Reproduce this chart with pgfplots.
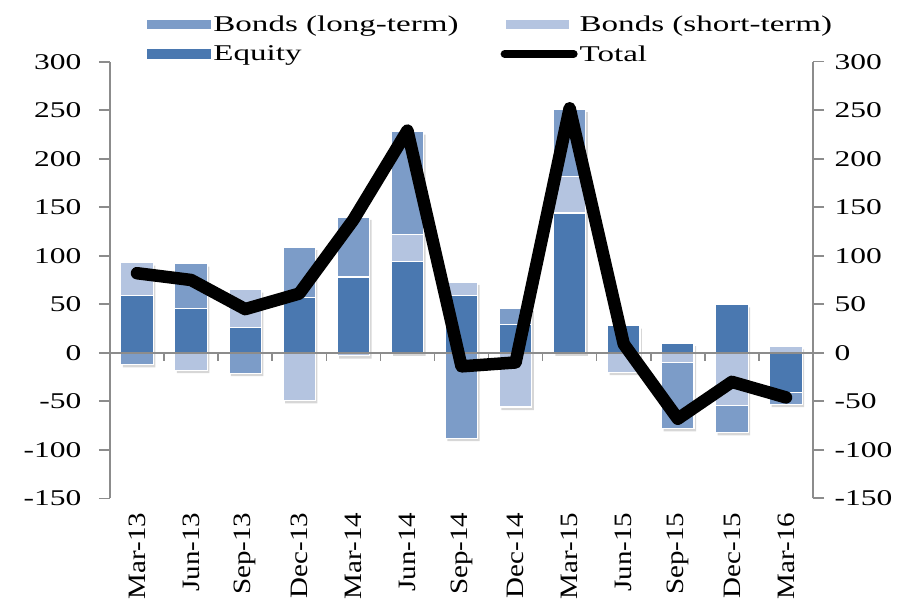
\documentclass[border=0pt]{standalone}
\usepackage{pgfplots}
\pgfplotsset{compat=1.18}
\usepackage{fontspec}
\setmainfont{Liberation Serif}
\newfontfamily\tickfont{Liberation Serif}[FakeStretch=1.4]
\newfontfamily\legfont{Liberation Serif}[FakeStretch=1.47]
\newfontfamily\xlabfont{Liberation Serif}[FakeStretch=1.16]
\definecolor{eqc}{RGB}{74,120,176}
\definecolor{ltc}{RGB}{124,156,200}
\definecolor{stc}{RGB}{180,196,224}
\definecolor{axc}{RGB}{140,140,140}
\definecolor{shc}{RGB}{215,215,215}
\pgfplotsset{
  base/.style={
    scale only axis, width=703pt, height=436.6pt,
    at={(110pt,101.7pt)}, anchor=south west,
    xmin=-0.5, xmax=12.5, ymin=-150, ymax=300,
    ytick={-150,-100,...,300},
    yticklabels={\mbox{-150},\mbox{-100},\mbox{-50},0,50,100,150,200,250,300},
    tick align=outside,
    major tick length=11pt,
    y axis line style={draw=axc, line width=1.6pt},
    y tick style={draw=axc, line width=1.6pt},
    y tick label style={font=\tickfont\fontsize{22.5}{27}\selectfont},
  },
  seg/.style={ybar, bar width=0.6, bar shift=0pt, draw=white, line width=1.2pt, fill=#1},
  shad/.style={ybar, bar width=0.6, bar shift=2pt, draw=none, fill=shc, forget plot,
    transform canvas={yshift=-3pt}},
}
\begin{document}
\begin{tikzpicture}
\begin{axis}[base,
  axis y line*=left, axis x line*=bottom,
  x axis line style={draw=none},
  x tick style={draw=none},
  xtick={0,...,12},
  xticklabels={Mar-13,Jun-13,Sep-13,Dec-13,Mar-14,Jun-14,Sep-14,Dec-14,Mar-15,Jun-15,Sep-15,Dec-15,Mar-16},
  x tick label style={rotate=90, anchor=east, font=\xlabfont\fontsize{25}{30}\selectfont},
  yticklabel style={xshift=-14pt},
  legend columns=2,
  legend cell align=left,
  legend style={at={(0.0526,1.109)}, anchor=north west, draw=none, fill=none,
    font=\legfont\fontsize{22.5}{27}\selectfont, inner sep=0pt, row sep=8pt,
    nodes={inner sep=2pt},
    /tikz/every even column/.append style={column sep=40pt}},
]
% soft shadows under the bars (outer envelope of each bar)
\addplot[shad] coordinates {(0,93) (1,92) (2,65) (3,109) (4,140) (5,228) (6,73) (7,46) (8,251) (9,28) (10,10) (11,50) (12,6.5)};
\addplot[shad] coordinates {(0,-12) (1,-18) (2,-21) (3,-49) (4,-3) (6,-88) (7,-56) (9,-20) (10,-78) (11,-82) (12,-53)};
% positive parts, cumulative tops (Equity, then short-term, then long-term)
\addplot[seg=ltc, legend image code/.code={\fill[ltc] (0pt,-4pt) rectangle (63pt,4pt);}]
  coordinates {(1,92) (3,109) (4,140) (5,228) (7,46) (8,251)};
\addlegendentry{Bonds (long-term)}
\addplot[seg=stc, legend image code/.code={\fill[stc] (0pt,-4pt) rectangle (62pt,4pt);}]
  coordinates {(0,93) (2,65) (5,122) (6,73) (8,182) (12,6.5)};
\addlegendentry{Bonds (short-term)}
\addplot[seg=eqc, legend image code/.code={\fill[eqc] (0pt,-4pt) rectangle (63pt,4pt);}]
  coordinates {(0,59) (1,46) (2,26) (3,57) (4,78) (5,94) (6,59) (7,29) (8,144) (9,28) (10,10) (11,50)};
\addlegendentry{Equity}
% negative parts, cumulative bottoms
\addplot[seg=ltc, forget plot]
  coordinates {(0,-12) (2,-21) (6,-88) (10,-78) (11,-82) (12,-53)};
\addplot[seg=stc, forget plot]
  coordinates {(1,-18) (3,-49) (4,-3) (7,-56) (9,-20) (10,-10) (11,-54)};
\addplot[seg=eqc, forget plot]
  coordinates {(12,-41)};
% zero line with category ticks
\draw[axc, line width=1.6pt] (axis cs:-0.5,0) -- (axis cs:12.5,0);
\pgfplotsinvokeforeach{0.5,1.5,...,11.5}{
  \draw[axc, line width=1.6pt] (axis cs:#1,0) -- ++(0pt,-8pt);
}
\addplot[black, line width=12.5pt, line join=round, line cap=round,
  legend image code/.code={\draw[black, line width=8pt, line cap=round] (-2pt,0pt) -- (67pt,0pt);}]
  coordinates {(0,82) (1,75) (2,45) (3,61) (4,137) (5,229) (6,-14) (7,-10) (8,252) (9,9) (10,-68) (11,-30) (12,-46)};
\addlegendentry{Total}
\end{axis}
\begin{axis}[base,
  axis y line*=right, axis x line=none,
  yticklabel style={xshift=7pt},
]
\addplot[draw=none] coordinates {(0,0)};
\end{axis}
\pgfresetboundingbox
\path[use as bounding box] (0pt,0pt) rectangle (919pt,600pt);
\end{tikzpicture}
\end{document}
